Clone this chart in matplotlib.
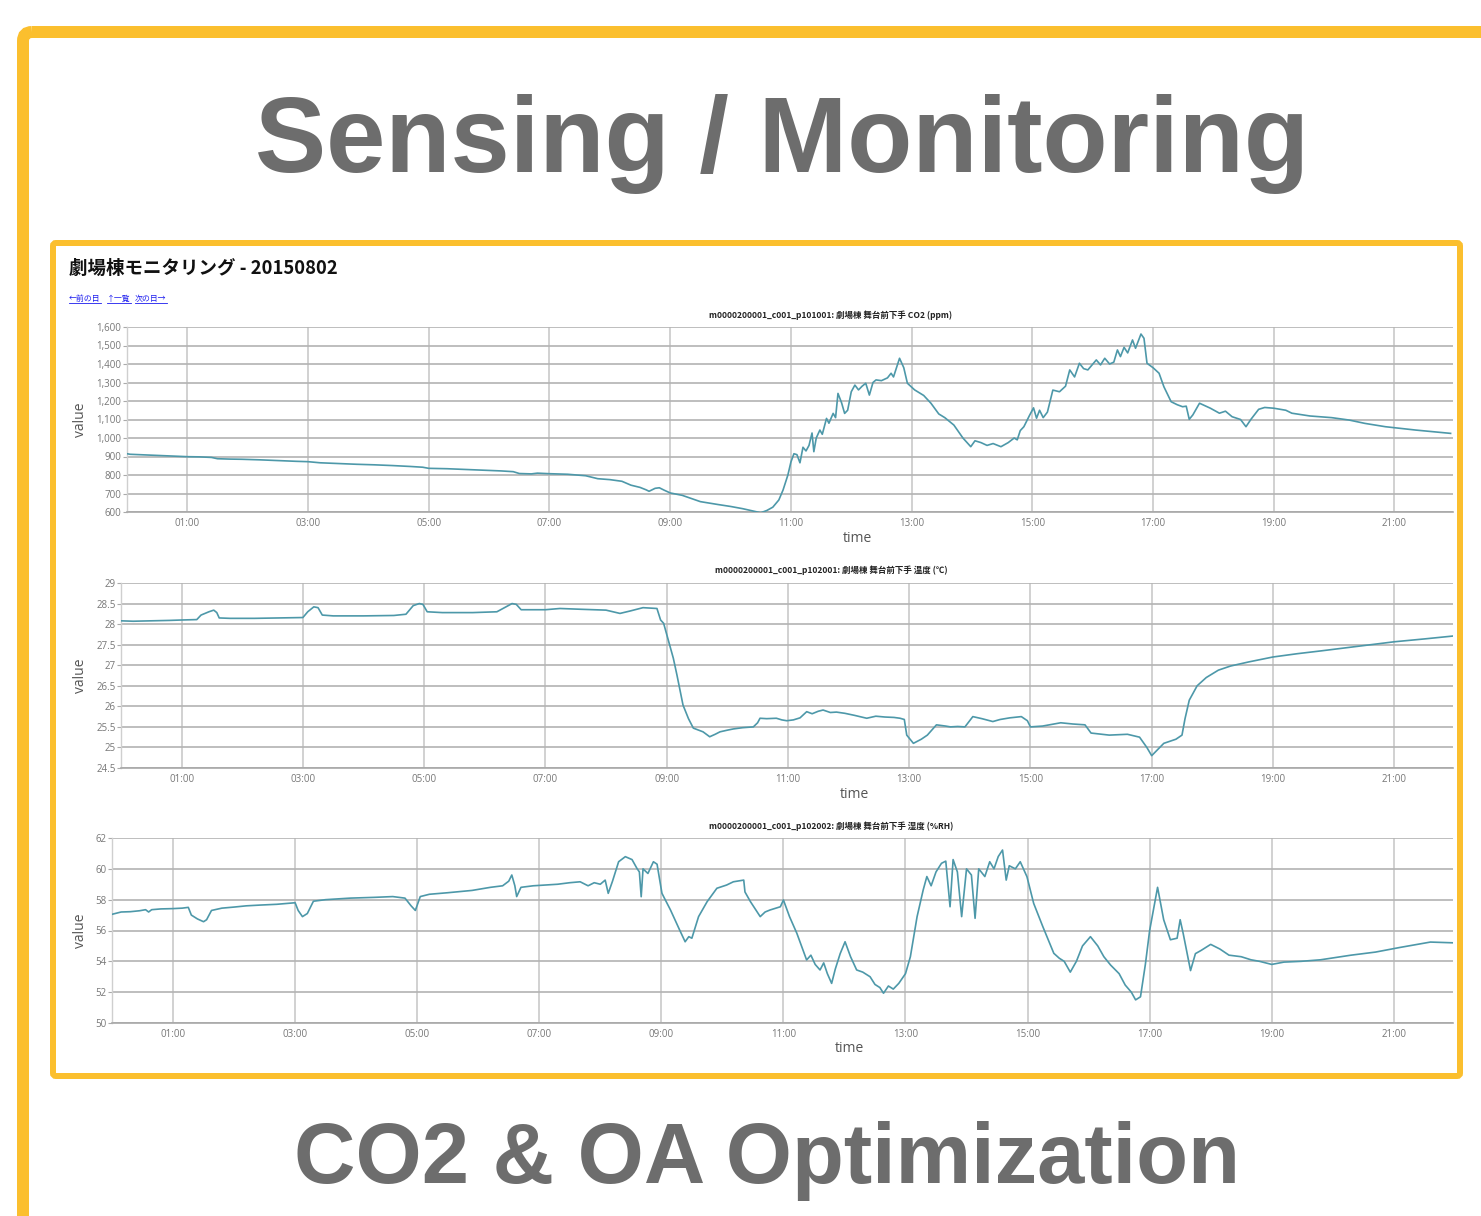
import matplotlib
matplotlib.use("Agg")
import matplotlib.pyplot as plt
from matplotlib.patches import FancyBboxPatch
from matplotlib.ticker import FuncFormatter

# ---------------- data (hours since 00:00, value) ----------------
co2_hours = [0.00, 0.05, 0.2, 0.4, 0.6, 0.8, 1.0, 1.2, 1.4, 1.5, 1.7, 1.9, 2.2, 2.5, 2.8, 3.0, 3.2, 3.5,
             3.8, 4.1, 4.4, 4.7, 4.9, 5.0, 5.3, 5.6, 5.9, 6.2, 6.4, 6.5, 6.7, 6.8, 7.0, 7.3, 7.6, 7.8,
             8.0, 8.2, 8.35, 8.5, 8.6, 8.65, 8.75, 8.82, 8.9, 9.0, 9.2, 9.5, 9.8, 10.0, 10.2, 10.4,
             10.5, 10.6, 10.7, 10.8, 10.87, 10.95, 11.0, 11.05, 11.1, 11.15, 11.2, 11.25, 11.3, 11.35,
             11.38, 11.42, 11.48, 11.52, 11.59, 11.63, 11.7, 11.74, 11.78, 11.84, 11.89, 11.94, 12.0,
             12.06, 12.12, 12.18, 12.24, 12.3, 12.36, 12.41, 12.5, 12.6, 12.66, 12.7, 12.8, 12.87,
             12.93, 13.05, 13.2, 13.32, 13.45, 13.55, 13.7, 13.85, 13.98, 14.05, 14.15, 14.25, 14.35,
             14.48, 14.6, 14.7, 14.75, 14.8, 14.86, 14.95, 15.02, 15.07, 15.12, 15.18, 15.25, 15.34,
             15.45, 15.55, 15.62, 15.7, 15.78, 15.85, 15.92, 16.06, 16.13, 16.2, 16.28, 16.35, 16.41,
             16.46, 16.52, 16.58, 16.66, 16.71, 16.8, 16.85, 16.9, 17.0, 17.1, 17.18, 17.3, 17.4,
             17.49, 17.55, 17.6, 17.66, 17.77, 17.95, 18.1, 18.2, 18.31, 18.45, 18.54, 18.62, 18.75,
             18.85, 19.0, 19.2, 19.3, 19.6, 19.96, 20.25, 20.51, 20.85, 21.1, 21.35, 21.6, 21.93]
co2_values = [915, 912, 910, 907, 905, 902, 899, 898, 895, 888, 886, 885, 882, 878, 874, 872, 866, 862,
              858, 855, 851, 846, 842, 836, 834, 830, 826, 822, 818, 808, 806, 810, 807, 804, 796, 780,
              775, 766, 745, 733, 720, 712, 728, 731, 718, 703, 690, 656, 640, 630, 618, 603,
              596, 608, 626, 665, 719, 800, 870, 915, 910, 866, 950, 930, 960, 1027,
              926, 1000, 1043, 1020, 1106, 1080, 1133, 1110, 1241, 1190, 1133, 1150, 1250,
              1286, 1260, 1280, 1296, 1232, 1300, 1314, 1310, 1325, 1350, 1330, 1431, 1380,
              1296, 1260, 1230, 1188, 1130, 1110, 1070, 1000, 953, 985, 975, 960, 970,
              953, 975, 1000, 990, 1040, 1061, 1120, 1163, 1107, 1150, 1110, 1140, 1259,
              1250, 1280, 1368, 1330, 1404, 1375, 1368, 1422, 1395, 1431, 1400, 1410, 1476,
              1440, 1490, 1460, 1530, 1485, 1562, 1539, 1404, 1380, 1350, 1277, 1196, 1180,
              1169, 1172, 1101, 1125, 1188, 1161, 1134, 1145, 1115, 1100, 1061, 1100, 1155,
              1165, 1161, 1150, 1134, 1119, 1110, 1097, 1079, 1061, 1052, 1043, 1035, 1025]

temp_hours = [0.0, 0.2, 0.5, 0.8, 1.0, 1.25, 1.32, 1.45, 1.53, 1.58, 1.62, 1.8, 2.2, 2.6, 3.0, 3.08,
              3.18, 3.25, 3.32, 3.5, 4.0, 4.5, 4.7, 4.82, 4.92, 4.98, 5.05, 5.3, 5.8, 6.2, 6.35, 6.45,
              6.52, 6.6, 7.0, 7.24, 7.6, 8.0, 8.23, 8.4, 8.61, 8.84, 8.9, 8.95, 9.11, 9.17, 9.27, 9.36,
              9.44, 9.6, 9.71, 9.8, 9.88, 10.0, 10.1, 10.25, 10.43, 10.5, 10.54, 10.65, 10.81, 10.9,
              10.98, 11.09, 11.2, 11.31, 11.4, 11.5, 11.58, 11.7, 11.8, 11.94, 12.1, 12.3, 12.45, 12.6,
              12.75, 12.85, 12.92, 12.96, 13.07, 13.2, 13.3, 13.45, 13.6, 13.68, 13.8, 13.92, 14.05,
              14.2, 14.38, 14.5, 14.66, 14.85, 14.95, 15.0, 15.2, 15.5, 15.7, 15.9, 16.0, 16.3, 16.6,
              16.8, 16.92, 17.0, 17.1, 17.2, 17.4, 17.5, 17.55, 17.62, 17.75, 17.9, 18.1, 18.3, 18.6,
              19.0, 19.4, 19.8, 20.4, 21.0, 21.5, 21.97]
temp_values = [28.08, 28.07, 28.08, 28.09, 28.1, 28.11, 28.22, 28.3, 28.34, 28.28, 28.15, 28.14, 28.14,
               28.15, 28.16, 28.3, 28.42, 28.4, 28.22, 28.2, 28.2, 28.21, 28.24, 28.45, 28.5, 28.48,
               28.3, 28.28, 28.28, 28.3, 28.42, 28.5, 28.48, 28.35, 28.35, 28.38, 28.36, 28.34, 28.26,
               28.32, 28.4, 28.38, 28.1, 28.02, 27.17, 26.76, 26.03, 25.7, 25.47, 25.38, 25.26, 25.32,
               25.38, 25.42, 25.45, 25.48, 25.5, 25.6, 25.71, 25.7, 25.71, 25.67, 25.65, 25.67, 25.72,
               25.87, 25.82, 25.88, 25.91, 25.85, 25.86, 25.83, 25.78, 25.71, 25.76, 25.74, 25.73,
               25.71, 25.68, 25.3, 25.1, 25.2, 25.3, 25.55, 25.52, 25.5, 25.51, 25.5, 25.75, 25.7,
               25.63, 25.68, 25.72, 25.75, 25.65, 25.5, 25.52, 25.6, 25.57, 25.55, 25.35, 25.3, 25.32,
               25.25, 25.0, 24.8, 24.95, 25.1, 25.2, 25.3, 25.7, 26.15, 26.5, 26.7, 26.88, 26.98,
               27.08, 27.2, 27.28, 27.35, 27.46, 27.57, 27.64, 27.71]

hum_hours = [0.0, 0.15, 0.3, 0.45, 0.55, 0.6, 0.65, 0.8, 1.0, 1.15, 1.25, 1.3, 1.4, 1.5, 1.55, 1.63,
             1.8, 2.0, 2.2, 2.43, 2.7, 3.0, 3.05, 3.12, 3.2, 3.3, 3.5, 3.9, 4.3, 4.6, 4.8, 4.9, 4.97,
             5.05, 5.2, 5.5, 5.9, 6.2, 6.4, 6.5, 6.55, 6.6, 6.63, 6.7, 6.9, 7.1, 7.3, 7.5, 7.67, 7.8,
             7.9, 8.0, 8.08, 8.13, 8.2, 8.3, 8.41, 8.52, 8.6, 8.64, 8.67, 8.7, 8.78, 8.87, 8.93, 9.01,
             9.15, 9.3, 9.39, 9.45, 9.5, 9.61, 9.75, 9.91, 10.07, 10.18, 10.35, 10.37, 10.46, 10.62,
             10.7, 10.78, 10.95, 11.0, 11.1, 11.22, 11.3, 11.38, 11.45, 11.52, 11.6, 11.66, 11.72,
             11.79, 11.85, 11.93, 12.01, 12.1, 12.2, 12.3, 12.42, 12.5, 12.58, 12.64, 12.72, 12.8,
             12.89, 13.0, 13.08, 13.19, 13.29, 13.35, 13.42, 13.5, 13.59, 13.66, 13.73, 13.78, 13.85,
             13.92, 14.0, 14.08, 14.14, 14.2, 14.3, 14.38, 14.45, 14.52, 14.59, 14.65, 14.7, 14.8,
             14.88, 14.99, 15.1, 15.25, 15.43, 15.52, 15.6, 15.7, 15.8, 15.9, 16.03, 16.15, 16.25,
             16.36, 16.5, 16.6, 16.7, 16.77, 16.85, 16.93, 17.0, 17.13, 17.23, 17.34, 17.45, 17.5,
             17.55, 17.67, 17.75, 17.84, 18.0, 18.15, 18.3, 18.5, 18.66, 18.8, 19.0, 19.2, 19.48,
             19.8, 20.3, 20.7, 21.1, 21.6, 21.98]
hum_values = [57.05, 57.2, 57.22, 57.28, 57.35, 57.2, 57.35, 57.4, 57.42, 57.45, 57.5, 57.0, 56.75,
              56.57, 56.7, 57.3, 57.45, 57.52, 57.6, 57.65, 57.7, 57.8, 57.3, 56.9, 57.1, 57.9, 58.0,
              58.1, 58.15, 58.2, 58.1, 57.6, 57.3, 58.2, 58.35, 58.45, 58.6, 58.8, 58.9, 59.2, 59.6,
              58.9, 58.2, 58.8, 58.9, 58.95, 59.0, 59.1, 59.16, 58.9, 59.1, 59.0, 59.27, 58.41, 59.2,
              60.46, 60.79, 60.6, 60.03, 59.8, 58.19, 60.0, 59.7, 60.46, 60.3, 58.41, 57.33, 56.03,
              55.27, 55.6, 55.5, 56.9, 57.87, 58.74, 58.95, 59.16, 59.27, 58.5, 57.87, 56.9, 57.2,
              57.33, 57.54, 57.98, 56.9, 55.82, 54.95, 54.09, 54.4, 53.8, 53.44, 53.9, 53.2, 52.57,
              53.5, 54.5, 55.27, 54.3, 53.44, 53.3, 53.0, 52.5, 52.3, 51.93, 52.4, 52.2, 52.57, 53.2,
              54.3, 56.9, 58.63, 59.5, 58.9, 59.8, 60.36, 60.5, 57.54, 60.6, 59.8, 56.9, 60.0, 59.6,
              56.79, 60.0, 59.5, 60.46, 60.0, 60.8, 61.22, 59.27, 60.2, 60.0, 60.46, 59.49, 57.76,
              56.25, 54.52, 54.2, 54.0, 53.3, 54.0, 55.0, 55.6, 55.0, 54.3, 53.76, 53.2, 52.46, 52.0,
              51.5, 51.7, 53.8, 56.0, 58.8, 56.7, 55.4, 55.5, 56.7, 55.8, 53.4, 54.5, 54.7, 55.1,
              54.8, 54.4, 54.3, 54.1, 54.0, 53.8, 53.95, 54.0, 54.1, 54.4, 54.6, 54.9, 55.25, 55.2]

hour_ticks = [1, 3, 5, 7, 9, 11, 13, 15, 17, 19, 21]
hour_labels = ["01:00", "03:00", "05:00", "07:00", "09:00", "11:00", "13:00", "15:00", "17:00",
               "19:00", "21:00"]
co2_ticks = [600, 700, 800, 900, 1000, 1100, 1200, 1300, 1400, 1500, 1600]
temp_ticks = [24.5, 25, 25.5, 26, 26.5, 27, 27.5, 28, 28.5, 29]
hum_ticks = [50, 52, 54, 56, 58, 60, 62]

slide_title = "Sensing / Monitoring"
slide_footer = "CO2 & OA Optimization"
page_heading = "劇場棟モニタリング - 20150802"
nav_links = ["←前の日", "↑一覧", "次の日→"]
chart_titles = ["m0000200001_c001_p101001: 劇場棟 舞台前下手 CO2 (ppm)",
                "m0000200001_c001_p102001: 劇場棟 舞台前下手 温度 (℃)",
                "m0000200001_c001_p102002: 劇場棟 舞台前下手 湿度 (%RH)"]

# ---------------- figure ----------------
W, H = 1481, 1216
fig = plt.figure(figsize=(W / 100, H / 100), dpi=100)
fig.patch.set_facecolor("white")
JP = ["Noto Sans CJK JP", "DejaVu Sans"]
YELLOW = "#FBBF2E"
LINE = "#4d98a9"

bg = fig.add_axes([0, 0, 1, 1], zorder=0)
bg.set_xlim(0, W)
bg.set_ylim(H, 0)
bg.axis("off")

px = 72 / 100.0  # points per pixel
bg.add_patch(FancyBboxPatch((23, 32), 1600, 1400, boxstyle="round,pad=0,rounding_size=9",
                            fill=False, ec=YELLOW, lw=12 * px))
bg.add_patch(FancyBboxPatch((53, 243), 1407, 833, boxstyle="round,pad=0,rounding_size=3",
                            fill=False, ec=YELLOW, lw=6 * px))

bg.text(782, 172, slide_title, ha="center", va="baseline", fontsize=76.8, fontweight="bold",
        color="#6d6d6d", family=["Liberation Sans", "DejaVu Sans"])
bg.text(767, 1183, slide_footer, ha="center", va="baseline", fontsize=61.2, fontweight="bold",
        color="#6d6d6d", family=["Liberation Sans", "DejaVu Sans"])
bg.text(69, 274, page_heading, ha="left", va="baseline", fontsize=13.3, fontweight="bold",
        color="#111111", family=JP)

link_x = [69, 107, 135]
link_texts = []
for lx, lt in zip(link_x, nav_links):
    link_texts.append(bg.text(lx, 301, lt, ha="left", va="baseline", fontsize=5.7,
                              color="#1a1aee", family=JP))

panel_specs = [
    (127, 327, 512, co2_hours, co2_values, (600, 1600), co2_ticks, 315, 539, 420),
    (121, 583, 768, temp_hours, temp_values, (24.5, 29), temp_ticks, 570, 794, 676),
    (112, 838, 1023, hum_hours, hum_values, (50, 62), hum_ticks, 826, 1049, 931),
]
time_x = [857, 854, 849]

for i, (left, top, bottom, xs, ys, ylim, yticks, title_y, time_y, value_y) in enumerate(panel_specs):
    right = 1453
    ax = fig.add_axes([left / W, 1 - bottom / H, (right - left) / W, (bottom - top) / H], zorder=2)
    ax.set_facecolor("none")
    ax.plot(xs, ys, color=LINE, lw=1.2, zorder=3)
    ax.set_xlim(0, 21.97)
    ax.set_ylim(*ylim)
    ax.set_xticks(hour_ticks)
    ax.set_xticklabels(hour_labels)
    ax.set_yticks(yticks)
    if i == 0:
        ax.yaxis.set_major_formatter(FuncFormatter(lambda v, p: f"{int(v):,}"))
    elif i == 1:
        ax.yaxis.set_major_formatter(FuncFormatter(lambda v, p: f"{v:g}"))
    ax.xaxis.grid(True, color="#c9c9c9", lw=1.2)
    ax.yaxis.grid(True, color="#b3b3b3", lw=1.2)
    ax.set_axisbelow(True)
    for s in ["top", "right"]:
        ax.spines[s].set_visible(False)
    ax.spines["left"].set_color("#cfcfcf")
    ax.spines["bottom"].set_color("#a8a8a8")
    ax.spines["left"].set_linewidth(1.0)
    ax.spines["bottom"].set_linewidth(1.2)
    ax.tick_params(axis="x", length=0, pad=4, labelsize=7, labelcolor="#777777")
    ax.tick_params(axis="y", length=3, width=0.8, color="#aaaaaa", pad=1, labelsize=7,
                   labelcolor="#777777")
    for lab in ax.get_xticklabels() + ax.get_yticklabels():
        lab.set_family(["Open Sans", "DejaVu Sans"])

    bg.text(831, title_y, chart_titles[i], ha="center", va="center", fontsize=6.1,
            fontweight="bold", color="#222222", family=JP)
    bg.text(time_x[i], time_y, "time", ha="center", va="center", fontsize=10,
            color="#555555", family=["Open Sans", "DejaVu Sans"])
    bg.text(81, value_y, "value", ha="center", va="center", fontsize=10, rotation=90,
            color="#555555", family=["Open Sans", "DejaVu Sans"])

# underline nav links
fig.canvas.draw()
inv = bg.transData.inverted()
for t in link_texts:
    bb = t.get_window_extent()
    (x0, y0) = inv.transform((bb.x0, bb.y0))
    (x1, _) = inv.transform((bb.x1, bb.y0))
    bg.plot([x0, x1], [302.5, 302.5], color="#1a1aee", lw=0.6)

fig.savefig("out.png", dpi=100)
